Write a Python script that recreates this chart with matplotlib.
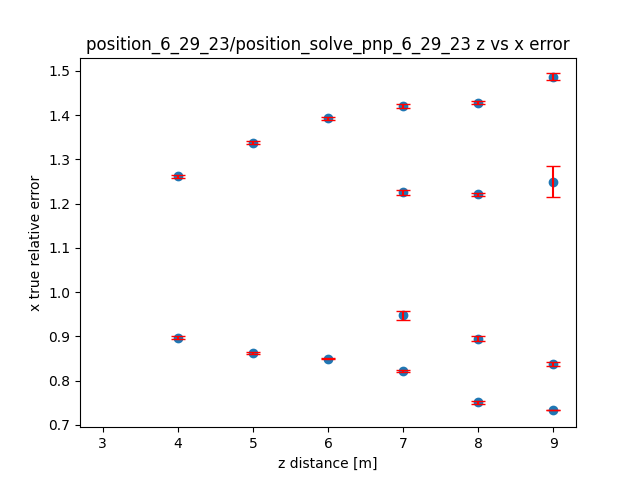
import matplotlib.pyplot as plt
import numpy as np

z = [4, 4, 5, 5, 6, 6, 7, 7, 7, 7, 8, 8, 8, 8, 9, 9, 9, 9]
err_mean = [1.262, 0.897, 1.338, 0.863, 1.393, 0.850,
            1.421, 1.226, 0.948, 0.822,
            1.428, 1.221, 0.895, 0.751,
            1.487, 1.249, 0.838, 0.733]
err_std = [0.003, 0.003, 0.004, 0.003, 0.003, 0.002,
           0.004, 0.006, 0.010, 0.003,
           0.003, 0.004, 0.005, 0.003,
           0.008, 0.035, 0.005, 0.0]

fig, ax = plt.subplots(figsize=(6.4, 4.8), dpi=100)
ax.scatter(z, err_mean)
ax.errorbar(z, err_mean, yerr=err_std, fmt='none', ecolor='red', capsize=5)
ax.set_xlim(2.7, 9.3)
ax.set_ylim(0.695, 1.53)
ax.set_xlabel('z distance [m]')
ax.set_ylabel('x true relative error')
ax.set_title('position_6_29_23/position_solve_pnp_6_29_23 z vs x error')
fig.savefig('out.png')
